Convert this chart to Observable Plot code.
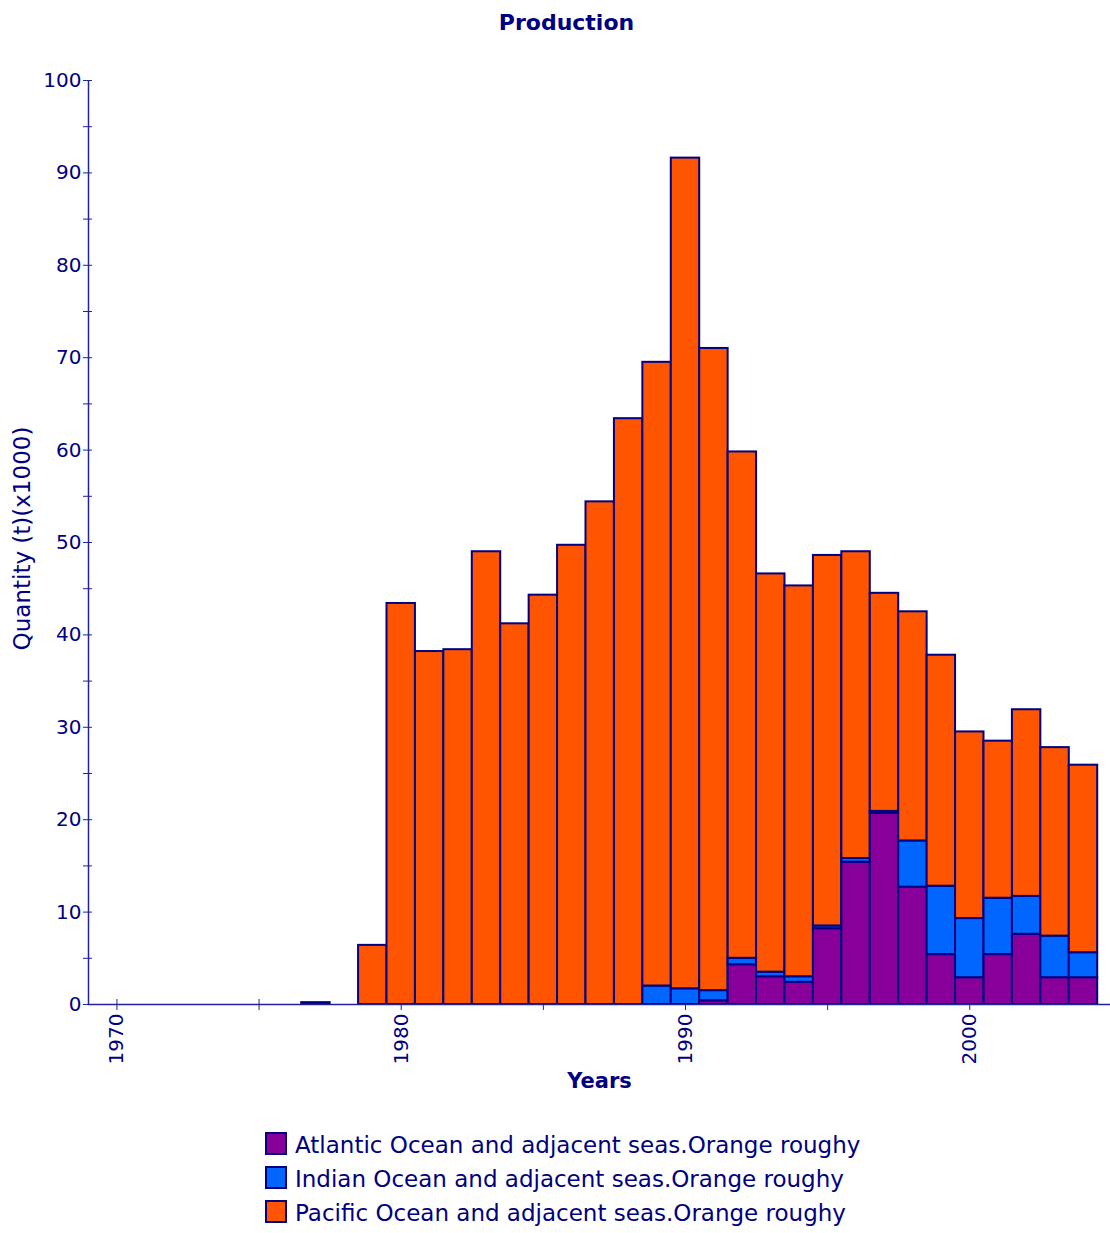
<!DOCTYPE html>
<html>
<head>
<meta charset="utf-8">
<script src="https://cdn.jsdelivr.net/npm/d3@7"></script>
<script src="https://cdn.jsdelivr.net/npm/@observablehq/plot@0.6"></script>
<style>
  body { margin: 0; background: #fff; }
  #wrap { position: relative; width: 1110px; height: 1233px; overflow: hidden; }
  #legend { position: absolute; left: 265px; top: 1126px; font-family: "DejaVu Sans"; font-size: 23px; color: #000080; }
  .row { display: flex; align-items: center; height: 34px; }
  .sw { width: 22px; height: 23px; box-sizing: border-box; border: 2px solid #000080; margin-right: 8px; }
  .lab { position: relative; top: 2px; line-height: 22px; white-space: nowrap; }
</style>
</head>
<body>
<div id="wrap"><div id="chart"></div><div id="legend"></div></div>
<script>
const years    = [1977, 1979, 1980, 1981, 1982, 1983, 1984, 1985, 1986, 1987, 1988, 1989, 1990, 1991, 1992, 1993, 1994, 1995, 1996, 1997, 1998, 1999, 2000, 2001, 2002, 2003, 2004];
const atlantic = [0,    0,    0,    0,    0,    0,    0,    0,    0,    0,    0,    0,    0,    0.4,  4.3,  3.0,  2.4,  8.2,  15.4, 20.7, 12.7, 5.4,  2.9,  5.4,  7.6,  2.9,  2.9];
const indian   = [0,    0,    0,    0,    0,    0,    0,    0,    0,    0,    0,    2.0,  1.7,  1.1,  0.7,  0.5,  0.6,  0.3,  0.4,  0.2,  5.0,  7.4,  6.4,  6.1,  4.1,  4.5,  2.7];
const pacific  = [0.2,  6.4,  43.4, 38.2, 38.4, 49.0, 41.2, 44.3, 49.7, 54.4, 63.4, 67.5, 89.9, 69.5, 54.8, 43.1, 42.3, 40.1, 33.2, 23.6, 24.8, 25.0, 20.2, 17.0, 20.2, 20.4, 20.3];

const seriesNames = [
  "Atlantic Ocean and adjacent seas.Orange roughy",
  "Indian Ocean and adjacent seas.Orange roughy",
  "Pacific Ocean and adjacent seas.Orange roughy"
];
const seriesColors = ["#880099", "#0066ff", "#ff5500"];
const yLabelTicks = [0, 10, 20, 30, 40, 50, 60, 70, 80, 90, 100];
const yAllTicks = d3.range(0, 101, 5);
const xLabelTicks = [1970, 1980, 1990, 2000];
const xAllTicks = [1970, 1975, 1980, 1985, 1990, 1995, 2000];

const seriesValues = [atlantic, indian, pacific];
const rows = [];
years.forEach((yr, i) => {
  let base = 0;
  seriesValues.forEach((vals, s) => {
    const v = vals[i];
    if (v > 0) rows.push({year: yr, series: seriesNames[s], y1: base, y2: base + v});
    base += v;
  });
});

const navy = "#000080";
const axisColor = "#22229a";

const chart = Plot.plot({
  width: 1110,
  height: 1120,
  marginLeft: 88,
  marginRight: 0,
  marginTop: 80,
  marginBottom: 116,
  x: {domain: [1969, 2004.95], label: null},
  y: {domain: [0, 100], label: null},
  color: {domain: seriesNames, range: seriesColors},
  style: {fontFamily: "DejaVu Sans", fontSize: "20px", color: navy, background: "#fff"},
  marks: [
    Plot.axisY({ticks: yAllTicks, tickSize: 9, dx: 4, tickFormat: () => "", label: null, stroke: axisColor}),
    Plot.axisY({ticks: yLabelTicks, tickSize: 0, tickPadding: 7, tickFormat: d => String(d), label: null, fontSize: 20, fill: navy}),
    Plot.axisX({ticks: xAllTicks, tickSize: 11, dy: -5, tickFormat: () => "", label: null, stroke: axisColor}),
    Plot.axisX({ticks: xLabelTicks, tickSize: 0, tickPadding: 9, tickRotate: -90, tickFormat: d => String(d), label: null, fontSize: 20, fill: navy}),
    Plot.rectY(rows, {x1: d => d.year - 0.5, x2: d => d.year + 0.5, y1: "y1", y2: "y2", fill: "series", stroke: navy, strokeWidth: 2}),
    Plot.ruleY([0], {stroke: axisColor, strokeWidth: 1.5}),
    Plot.ruleX([1969], {stroke: axisColor, strokeWidth: 1.5}),
    Plot.text(["Production"], {text: d => d, frameAnchor: "top", dx: -33, dy: -66, fontWeight: "bold", fontSize: 22, fill: navy}),
    Plot.text(["Years"], {text: d => d, frameAnchor: "bottom", dy: 83, fontWeight: "bold", fontSize: 21, fill: navy}),
    Plot.text(["Quantity (t)(x1000)"], {text: d => d, frameAnchor: "left", textAnchor: "middle", dx: -66, dy: -4, rotate: -90, fontSize: 23, fill: navy})
  ]
});
document.getElementById("chart").appendChild(chart);

const legend = document.getElementById("legend");
seriesNames.forEach((name, i) => {
  const row = document.createElement("div");
  row.className = "row";
  const sw = document.createElement("div");
  sw.className = "sw";
  sw.style.background = seriesColors[i];
  const lab = document.createElement("span");
  lab.className = "lab";
  lab.textContent = name;
  row.appendChild(sw);
  row.appendChild(lab);
  legend.appendChild(row);
});
</script>
</body>
</html>
